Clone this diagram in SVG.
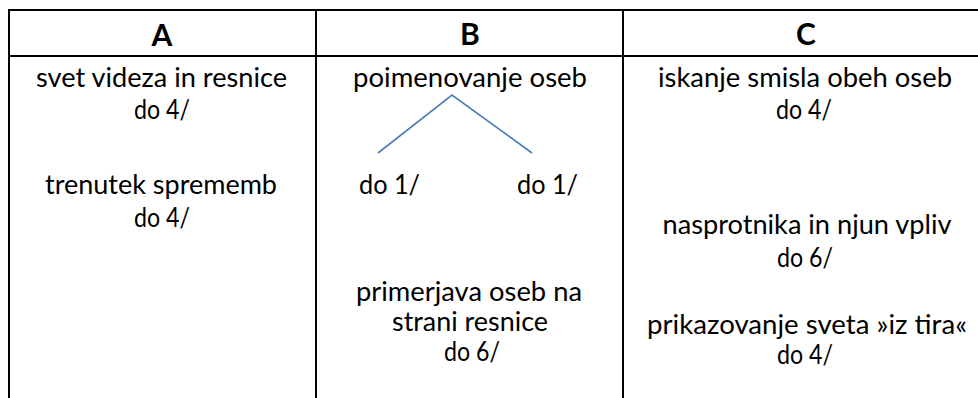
<svg xmlns="http://www.w3.org/2000/svg" width="978" height="398" viewBox="0 0 978 398">
<style>
.grid{stroke:#000;stroke-width:2;fill:none}
.h{font-family:Lato,"Liberation Sans",sans-serif;font-weight:bold;font-size:30px;fill:#000;text-anchor:middle}
.t{font-family:Lato,"Liberation Sans",sans-serif;font-size:27px;fill:#000;text-anchor:middle}
.link{stroke:#4a7ebb;stroke-width:1.6;fill:none}
</style>
<rect width="978" height="398" fill="#fff"/>
<g id="table">
<line class="grid" x1="8" y1="10" x2="978" y2="10"/>
<line class="grid" x1="8" y1="56" x2="978" y2="56"/>
<line class="grid" x1="9" y1="9" x2="9" y2="398"/>
<line class="grid" x1="316" y1="9" x2="316" y2="398"/>
<line class="grid" x1="623" y1="9" x2="623" y2="398"/>
</g>
<g id="header-A"><text class="h" x="162" y="46">A</text></g>
<g id="header-B"><text class="h" x="470" y="45">B</text></g>
<g id="header-C"><text class="h" x="806" y="45">C</text></g>
<g id="a1">
<text class="t" x="161.5" y="87" textLength="251" lengthAdjust="spacingAndGlyphs">svet videza in resnice</text>
<text class="t" x="162" y="119" textLength="56" lengthAdjust="spacingAndGlyphs">do 4/</text>
</g>
<g id="a2">
<text class="t" x="161" y="194" textLength="232" lengthAdjust="spacingAndGlyphs">trenutek sprememb</text>
<text class="t" x="162" y="227" textLength="56" lengthAdjust="spacingAndGlyphs">do 4/</text>
</g>
<g id="b1"><text class="t" x="470" y="87" textLength="234" lengthAdjust="spacingAndGlyphs">poimenovanje oseb</text></g>
<g id="b2"><text class="t" x="389.5" y="194" textLength="61" lengthAdjust="spacingAndGlyphs">do 1/</text></g>
<g id="b3"><text class="t" x="547.5" y="194" textLength="61" lengthAdjust="spacingAndGlyphs">do 1/</text></g>
<g id="b4">
<text class="t" x="469" y="301" textLength="226" lengthAdjust="spacingAndGlyphs">primerjava oseb na</text>
<text class="t" x="470" y="331" textLength="156" lengthAdjust="spacingAndGlyphs">strani resnice</text>
<text class="t" x="472" y="361" textLength="56" lengthAdjust="spacingAndGlyphs">do 6/</text>
</g>
<g id="c1">
<text class="t" x="805" y="87" textLength="294" lengthAdjust="spacingAndGlyphs">iskanje smisla obeh oseb</text>
<text class="t" x="804" y="119" textLength="56" lengthAdjust="spacingAndGlyphs">do 4/</text>
</g>
<g id="c2">
<text class="t" x="807" y="234" textLength="289" lengthAdjust="spacingAndGlyphs">nasprotnika in njun vpliv</text>
<text class="t" x="805" y="267" textLength="56" lengthAdjust="spacingAndGlyphs">do 6/</text>
</g>
<g id="c3">
<text class="t" x="807" y="334" textLength="320" lengthAdjust="spacingAndGlyphs">prikazovanje sveta »iz tira«</text>
<text class="t" x="805" y="364" textLength="56" lengthAdjust="spacingAndGlyphs">do 4/</text>
</g>
<g id="connectors">
<polyline class="link" points="378,153 452,95 532,153"/>
</g>
</svg>
